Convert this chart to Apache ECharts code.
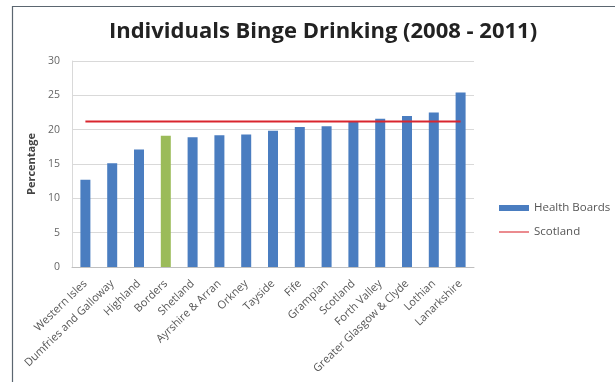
<!DOCTYPE html>
<html><head><meta charset="utf-8">
<script src="https://cdn.jsdelivr.net/npm/echarts@6/dist/echarts.min.js"></script>
<style>html,body{margin:0;padding:0;background:#fff}#c{width:615px;height:382px}</style>
</head><body><div id="c"></div>
<script>
var titleText = 'Individuals Binge Drinking (2008 - 2011)';
var categories = ['Western Isles','Dumfries and Galloway','Highland','Borders','Shetland','Ayrshire & Arran','Orkney','Tayside','Fife','Grampian','Scotland','Forth Valley','Greater Glasgow & Clyde','Lothian','Lanarkshire'];
var healthBoards = [12.7, 15.1, 17.1, 19.1, 18.9, 19.2, 19.3, 19.85, 20.4, 20.5, 21.2, 21.6, 22.0, 22.5, 25.4];
var scotland = [21.2, 21.2, 21.2, 21.2, 21.2, 21.2, 21.2, 21.2, 21.2, 21.2, 21.2, 21.2, 21.2, 21.2, 21.2];
var highlightCategory = 'Borders';
var yTicks = [0, 5, 10, 15, 20, 25, 30];

var font = 'Open Sans';
var chart = echarts.init(document.getElementById('c'), null, {renderer: 'canvas'});
chart.setOption({
  animation: false,
  textStyle: {fontFamily: font},
  graphic: [{
    type: 'rect', shape: {x: 12.5, y: 6.5, width: 620, height: 400},
    style: {fill: 'none', stroke: '#5b6670', lineWidth: 1.2}, silent: true
  }],
  title: {
    text: titleText, left: 318, top: 16, textAlign: 'center',
    textStyle: {fontFamily: font, fontSize: 22, fontWeight: 'bold', color: '#222'}
  },
  legend: {
    orient: 'vertical', left: 494, top: 197, itemGap: 12,
    itemWidth: 30, itemHeight: 6,
    textStyle: {fontFamily: font, fontSize: 11.5, color: '#555'},
    data: [
      {name: 'Health Boards', icon: 'rect'},
      {name: 'Scotland', icon: 'path://M0,0 L28,0 L28,1 L0,1 Z'}
    ]
  },
  grid: {left: 72, right: 141, top: 61, bottom: 115},
  xAxis: {
    type: 'category', data: categories,
    axisLine: {lineStyle: {color: '#bfbfbf'}},
    axisTick: {show: false},
    axisLabel: {rotate: 44, fontSize: 11, color: '#555', fontFamily: font, interval: 0, margin: 15}
  },
  yAxis: {
    type: 'value', min: yTicks[0], max: yTicks[yTicks.length - 1], interval: 5,
    name: 'Percentage', nameLocation: 'middle', nameGap: 33,
    nameTextStyle: {fontFamily: font, fontSize: 11, fontWeight: 'bold', color: '#444'},
    axisLine: {show: true, lineStyle: {color: '#d9d9d9'}},
    axisTick: {show: false},
    axisLabel: {fontSize: 10.5, color: '#666', fontFamily: font, margin: 12},
    splitLine: {lineStyle: {color: '#d9d9d9'}}
  },
  series: [
    {
      name: 'Health Boards', type: 'bar', barWidth: 10,
      itemStyle: {color: '#4a7dc0'},
      data: healthBoards.map(function (v, i) {
        return categories[i] === highlightCategory ? {value: v, itemStyle: {color: '#9bbb59'}} : v;
      })
    },
    {
      name: 'Scotland', type: 'line', data: scotland, symbol: 'none',
      lineStyle: {color: '#d9262e', width: 2}, itemStyle: {color: '#d9262e'}
    }
  ]
});
</script></body></html>
